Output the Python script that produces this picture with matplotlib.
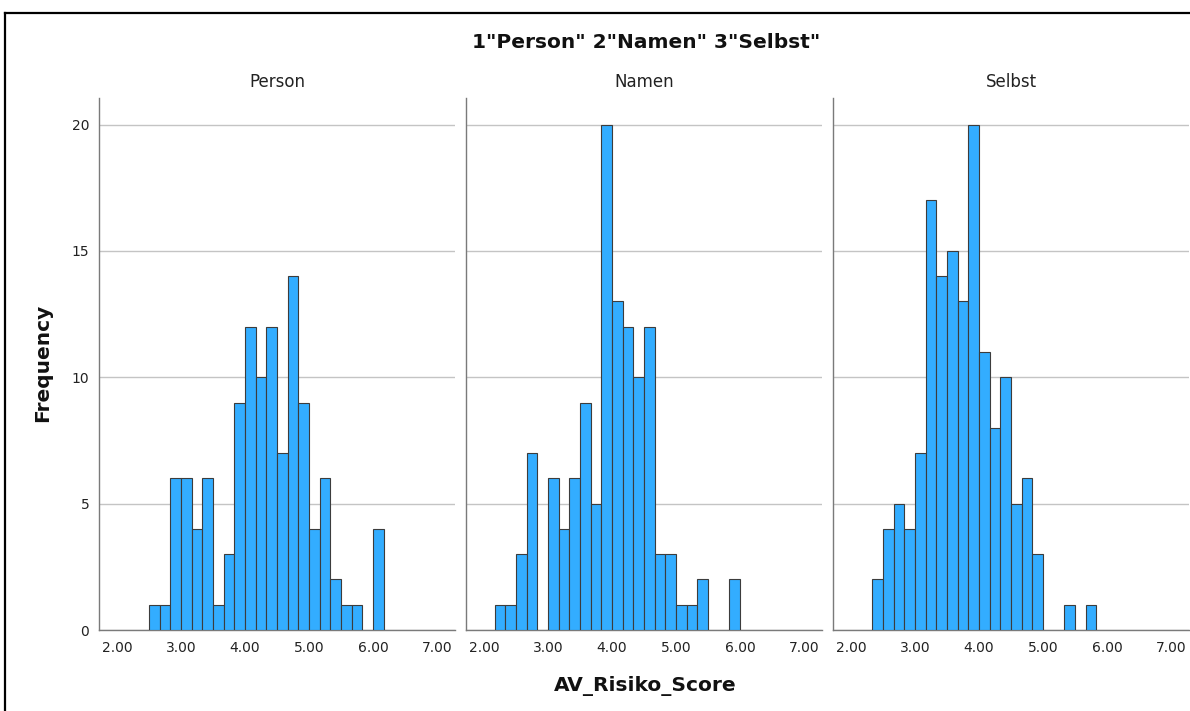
import numpy as np
from matplotlib import pyplot as plt
from matplotlib.lines import Line2D

# histogram data, bin width 1/6
panels = ["Person", "Namen", "Selbst"]
bin_width = 1 / 6
bin_start = [15 / 6, 13 / 6, 14 / 6]
counts_person = [1, 1, 6, 6, 4, 6, 1, 3, 9, 12, 10, 12, 7, 14, 9, 4, 6, 2, 1, 1, 0, 4]
counts_namen = [1, 1, 3, 7, 0, 6, 4, 6, 9, 5, 20, 13, 12, 10, 12, 3, 3, 1, 1, 2, 0, 0, 2]
counts_selbst = [2, 4, 5, 4, 7, 17, 14, 15, 13, 20, 11, 8, 10, 5, 6, 3, 0, 0, 1, 0, 1]
counts = [counts_person, counts_namen, counts_selbst]

xticks = [2, 3, 4, 5, 6, 7]
yticks = [0, 5, 10, 15, 20]

fig = plt.figure(figsize=(11.9, 7.11), dpi=100)
fig.patch.set_facecolor("white")

lefts = [99, 466, 833]
for i, name in enumerate(panels):
    ax = fig.add_axes([lefts[i] / 1190, 1 - 630 / 711, 356 / 1190, 532 / 711])
    c = np.array(counts[i])
    edges = bin_start[i] + bin_width * np.arange(len(c))
    keep = c > 0
    ax.bar(edges[keep], c[keep], width=bin_width, align="edge",
           color="#33adff", edgecolor="#3c3c3c", linewidth=0.8, zorder=3)
    ax.set_xlim(1.72, 7.28)
    ax.set_ylim(0, 21.05)
    ax.set_xticks(xticks)
    ax.set_xticklabels(["%.2f" % v for v in xticks])
    ax.set_yticks(yticks)
    if i > 0:
        ax.set_yticklabels([])
    ax.yaxis.grid(True, color="#c4c4c4", linewidth=1.0, zorder=0)
    ax.tick_params(length=0, labelsize=10, colors="#222222")
    ax.tick_params(axis="x", pad=8)
    ax.tick_params(axis="y", pad=7)
    for s in ["top", "right"]:
        ax.spines[s].set_visible(False)
    for s in ["left", "bottom"]:
        ax.spines[s].set_color("#7a7a7a")
        ax.spines[s].set_linewidth(1.0)
    ax.set_title(name, fontsize=12, color="#222222", pad=8)

fig.text(646 / 1190, 1 - 43 / 711, '1"Person" 2"Namen" 3"Selbst"',
         ha="center", va="center", fontsize=14.5, fontweight="bold", color="#111111")
fig.text(43 / 1190, 1 - 363 / 711, "Frequency", rotation=90,
         ha="center", va="center", fontsize=14.5, fontweight="bold", color="#111111")
fig.text(645 / 1190, 1 - 686 / 711, "AV_Risiko_Score",
         ha="center", va="center", fontsize=14.5, fontweight="bold", color="#111111")

# outer frame (left and top edges only are visible in the screenshot)
fig.add_artist(Line2D([5 / 1190, 5 / 1190], [0, 1 - 13 / 711], transform=fig.transFigure,
                      color="black", linewidth=1.6))
fig.add_artist(Line2D([5 / 1190, 1], [1 - 13 / 711, 1 - 13 / 711], transform=fig.transFigure,
                      color="black", linewidth=1.6))

fig.savefig("out.png", dpi=100)
